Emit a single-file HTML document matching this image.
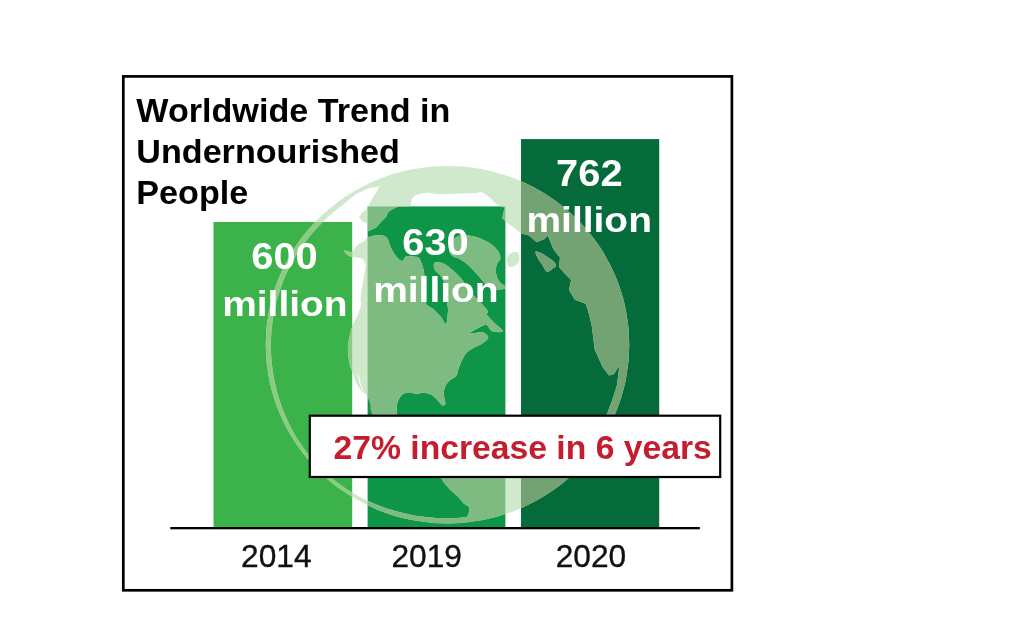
<!DOCTYPE html>
<html lang="en">
<head>
<meta charset="utf-8">
<title>Worldwide Trend in Undernourished People</title>
<style>
html,body{margin:0;padding:0;background:#fff;}
body{width:1024px;height:630px;overflow:hidden;position:relative;font-family:"Liberation Sans",sans-serif;}
svg{position:absolute;left:0;top:0;display:block;}
text{font-family:"Liberation Sans",sans-serif;}
.t{font-weight:bold;font-size:33.6px;fill:#000;}
.v{font-weight:bold;font-size:36px;fill:#fff;text-anchor:middle;}
.y{font-size:31.7px;fill:#111;stroke:#111;stroke-width:0.35px;text-anchor:middle;}
.c{font-weight:bold;font-size:33.7px;fill:#c41e2e;}
</style>
</head>
<body>
<svg width="1024" height="630" viewBox="0 0 1024 630">
  <rect x="0" y="0" width="1024" height="630" fill="#fff"/>
  <!-- frame -->
  <rect x="123.3" y="76.4" width="608.6" height="513.9" fill="#fff" stroke="#000" stroke-width="2.7"/>
  <!-- bars -->
  <rect x="213.5" y="222" width="138.7" height="306" fill="#3bb34a"/>
  <rect x="367.6" y="206.4" width="137.8" height="321.6" fill="#0e9547"/>
  <rect x="521" y="139.1" width="138.2" height="389" fill="#066b3a"/>
  <!-- globe -->
  <defs>
    <clipPath id="cb1"><rect x="213.5" y="222" width="138.7" height="306"/></clipPath>
    <clipPath id="cb2"><rect x="367.6" y="206.4" width="137.8" height="321.6"/></clipPath>
    <clipPath id="cb3"><rect x="521" y="139.1" width="138.2" height="389"/></clipPath>
    <g id="gl"><path fill-rule="evenodd" d="M265.7 344.7A181.8 178.7 0 1 1 629.3 344.7A181.8 178.7 0 1 1 265.7 344.7ZM467.5 517.1L457.1 518.0L446.7 518.3L436.3 518.0L426.0 517.1L415.6 515.7L405.4 513.6L395.3 511.1L385.4 507.9L375.6 504.2L366.1 500.0L356.8 495.2L347.8 489.9L339.2 484.0L331.0 477.6L323.2 470.7L315.8 463.3L309.0 455.4L302.8 447.1L297.0 438.4L291.9 429.5L287.3 420.2L283.2 410.7L279.8 401.0L276.8 391.2L274.5 381.2L272.7 371.1L271.5 361.0L270.9 350.8L270.9 340.5L271.5 330.3L272.7 320.2L274.4 310.1L276.8 300.2L279.8 290.4L283.3 280.8L287.4 271.4L292.1 262.2L297.3 253.4L303.1 244.9L309.3 236.7L316.0 228.9L323.2 221.5L330.8 214.5L338.8 208.0L356.0 194.0L368.0 188.5L379.7 186.2L377.0 191.0L372.5 198.0L368.5 206.0L366.0 210.0L361.5 213.0L359.3 217.5L362.0 221.0L367.6 223.6L367.6 231.5L375.9 227.8L381.0 222.0L386.2 216.8L388.4 211.7L393.5 208.8L398.6 206.4L411.0 206.2L411.4 199.7L414.6 195.7L421.0 193.5L428.9 192.5L435.2 194.1L444.0 194.2L460.0 193.6L476.0 193.3L480.8 191.7L485.0 194.0L490.3 198.0L495.0 203.0L499.8 206.0L504.6 207.6L502.2 218.0L506.2 222.0L512.5 226.7L521.1 233.3L528.9 235.6L536.7 242.2L544.4 238.9L547.8 235.6L553.3 248.9L560.0 257.8L558.9 266.7L564.4 273.3L571.1 280.0L569.0 290.0L574.9 299.8L585.8 303.8L589.0 314.0L591.7 325.6L594.7 349.4L602.7 367.3L609.0 375.5L614.0 374.0L619.5 365.3L617.0 385.0L612.6 399.0L607.0 414.0L600.0 430.0L560.0 440.0L480.0 440.0L446.0 458.0L441.0 478.0L445.0 484.0L450.3 490.0L458.1 496.8L464.0 503.7L469.4 507.1L468.9 512.5L467.4 515.9Z"/><path d="M367.6 237.4C369.7 236.3 373.9 235.4 376.6 235.2C379.3 234.9 382.2 235.3 384.0 235.9C385.8 236.5 386.5 237.0 387.6 238.8C388.7 240.6 389.2 244.1 390.6 246.9C392.0 249.7 393.8 253.3 395.7 255.7C397.6 258.1 400.3 260.9 402.0 261.0C403.7 261.1 404.2 257.1 406.0 256.4C407.8 255.6 410.8 256.2 413.0 256.5C415.2 256.8 417.5 256.6 419.0 257.9C420.5 259.2 421.2 262.0 422.0 264.4C422.8 266.8 423.5 268.6 424.0 272.0C424.5 275.4 424.7 280.7 425.0 285.0C425.3 289.3 425.8 294.8 426.0 298.0C426.2 301.2 425.3 302.7 426.4 304.5C427.5 306.3 430.2 306.6 432.6 308.6C435.0 310.7 438.6 314.2 440.8 316.8C443.0 319.4 444.8 325.0 446.0 324.0C447.2 323.0 447.8 314.2 448.0 310.6C448.2 307.0 447.0 305.0 447.0 302.4C447.0 299.8 447.2 295.7 448.0 295.0C448.8 294.3 450.3 296.8 452.0 298.0C453.7 299.2 455.7 301.0 458.0 302.0C460.3 303.0 463.3 303.3 466.0 304.0C468.7 304.7 471.3 304.9 474.0 306.0C476.7 307.1 478.7 307.8 482.1 310.6C485.5 313.4 491.1 319.6 494.5 323.0C497.9 326.4 503.2 329.9 502.8 331.3C502.4 332.7 495.1 332.3 492.4 331.3C489.6 330.3 488.7 325.6 486.3 325.1C483.9 324.6 480.8 326.8 478.0 328.2C475.2 329.6 469.0 332.7 469.7 333.4C470.4 334.1 479.0 331.6 482.1 332.3C485.2 333.0 488.3 335.6 488.3 337.5C488.3 339.4 484.5 342.0 482.1 343.7C479.7 345.4 476.6 346.1 473.9 347.8C471.1 349.5 468.0 350.9 465.6 354.0C463.2 357.1 460.6 363.7 459.4 366.4C458.1 369.1 458.6 368.4 458.1 370.0C457.6 371.6 457.8 373.9 456.2 375.9C454.6 377.8 450.3 379.6 448.4 381.7C446.4 383.8 445.2 386.3 444.5 388.6C443.8 390.9 443.9 392.9 444.0 395.4C444.1 397.9 445.5 401.8 445.4 403.5C445.3 405.2 444.1 405.3 443.5 405.5C442.9 405.7 442.6 405.7 441.5 404.7C440.4 403.7 438.2 400.9 436.6 399.3C435.0 397.7 433.9 396.0 431.8 394.9C429.7 393.8 426.3 392.9 423.9 392.7C421.4 392.5 419.5 393.9 417.1 393.9C414.7 393.9 411.7 392.4 409.3 392.5C406.9 392.6 404.4 392.8 402.5 394.4C400.6 396.0 398.5 398.9 397.6 402.2C396.7 405.5 396.4 410.6 397.1 414.4C397.8 418.2 399.9 421.4 402.0 425.0C404.1 428.6 406.3 432.5 410.0 436.0C413.7 439.5 419.0 443.3 424.0 446.0C429.0 448.7 439.0 450.0 440.0 452.0C441.0 454.0 435.0 458.0 430.0 458.0C425.0 458.0 416.3 455.0 410.0 452.0C403.7 449.0 397.0 444.0 392.0 440.0C387.0 436.0 383.4 432.8 380.0 428.0C376.6 423.2 373.1 415.4 371.5 411.5C369.9 407.6 371.2 406.8 370.6 404.5C370.0 402.2 368.8 399.2 368.0 397.5C367.2 395.8 366.9 395.1 365.7 394.0C364.5 392.9 362.6 392.6 361.0 390.6C359.4 388.6 357.2 385.0 355.8 381.8C354.4 378.6 353.3 374.3 352.3 371.4C351.3 368.5 350.4 367.9 349.7 364.4C349.0 360.9 348.0 354.5 347.9 350.4C347.8 346.3 348.1 344.0 348.8 339.9C349.5 335.8 350.9 330.1 352.3 326.0C353.8 321.9 356.1 319.0 357.5 315.5C358.9 312.0 360.5 307.6 361.0 305.0C361.5 302.4 360.5 301.8 360.5 300.0C360.5 298.2 360.6 297.0 361.0 294.3C361.4 291.6 362.2 287.3 362.8 283.8C363.4 280.3 364.0 276.2 364.5 273.3C365.0 270.4 365.8 268.6 365.7 266.4C365.6 264.2 365.1 261.7 363.7 260.2C362.3 258.7 359.7 258.2 357.5 257.6C355.3 257.0 352.5 257.3 350.6 256.7C348.7 256.1 347.2 255.1 346.2 254.1C345.2 253.1 344.1 251.1 344.4 250.6C344.7 250.1 346.7 251.1 348.0 251.3C349.3 251.5 351.2 252.6 352.3 252.0C353.4 251.4 353.7 249.4 354.9 248.0C356.1 246.6 357.8 244.8 359.3 243.7C360.8 242.6 362.6 242.6 364.0 241.5C365.4 240.4 365.5 238.5 367.6 237.4Z"/><path d="M433.8 264.4C434.1 263.1 435.0 262.4 436.7 262.3C438.4 262.2 441.3 262.4 444.0 263.7C446.7 265.0 449.9 267.7 452.8 270.3C455.7 272.9 459.2 276.2 461.6 279.1C464.1 282.0 465.8 285.4 467.5 287.9C469.2 290.4 469.9 291.6 472.0 294.0C474.1 296.4 477.3 299.0 480.0 302.0C482.7 305.0 488.0 310.0 488.0 312.0C488.0 314.0 483.7 314.3 480.0 314.0C476.3 313.7 470.0 311.3 466.0 310.0C462.0 308.7 458.8 307.7 456.0 306.0C453.2 304.3 450.5 302.3 449.0 300.0C447.5 297.7 447.8 295.0 447.0 292.0C446.2 289.0 445.2 284.9 444.0 282.0C442.8 279.1 441.1 276.6 439.6 274.7C438.1 272.8 436.2 272.0 435.2 270.3C434.2 268.6 433.6 265.7 433.8 264.4Z"/><path d="M449.0 249.0C449.2 246.4 451.2 242.2 453.0 240.0C454.8 237.8 457.6 236.3 460.0 235.5C462.4 234.7 464.3 234.8 467.5 235.2C470.7 235.6 475.3 236.6 479.2 238.1C483.1 239.6 487.7 241.7 490.9 243.9C494.1 246.1 496.6 248.9 498.2 251.3C499.8 253.8 500.6 256.4 500.4 258.6C500.2 260.8 497.5 262.0 496.8 264.4C496.1 266.8 495.5 270.3 496.0 273.2C496.5 276.1 498.1 279.8 499.7 282.0C501.3 284.2 504.5 285.3 505.5 286.4C506.5 287.5 506.7 288.0 505.5 288.5C504.3 289.0 500.9 289.5 498.2 289.4C495.5 289.3 491.8 289.1 489.4 287.9C487.0 286.7 485.8 284.4 483.6 282.0C481.4 279.6 478.9 276.1 476.2 273.2C473.5 270.3 470.4 266.8 467.5 264.4C464.6 262.0 461.3 260.1 458.7 258.6C456.1 257.2 453.6 257.3 452.0 255.7C450.4 254.1 448.8 251.6 449.0 249.0Z"/><path d="M507.0 258.0C507.6 256.2 509.3 253.9 511.0 253.0C512.7 252.1 515.6 251.8 517.0 252.5C518.4 253.2 519.5 255.1 519.5 257.0C519.5 258.9 518.4 262.3 517.0 264.0C515.6 265.7 512.6 267.0 511.0 267.0C509.4 267.0 508.2 265.5 507.5 264.0C506.8 262.5 506.4 259.8 507.0 258.0Z"/><path d="M535.7 251.6C536.4 250.8 539.5 252.3 542.3 253.8C545.1 255.3 550.3 258.6 552.6 260.6C554.9 262.6 556.1 264.2 556.0 265.6C555.9 267.0 553.5 268.2 552.0 269.2C550.5 270.2 548.4 272.3 546.8 271.6C545.2 270.9 543.8 267.1 542.3 264.9C540.8 262.7 539.0 260.5 537.9 258.3C536.8 256.1 535.0 252.3 535.7 251.6Z"/></g>
  </defs>
  <use href="#gl" fill="#d0e8cc"/>
  <use href="#gl" fill="#8ccb84" clip-path="url(#cb1)"/>
  <use href="#gl" fill="#7ebb80" clip-path="url(#cb2)"/>
  <use href="#gl" fill="#73a373" clip-path="url(#cb3)"/>
  <path id="arc" d="M358.4 374.8Q359.3 383.5 362.8 390.6" stroke="#fff" stroke-width="1" fill="none" stroke-linecap="round"/>
  <!-- axis -->
  <rect x="170.3" y="527" width="529.5" height="2.3" fill="#000"/>
  <!-- title -->
  <text class="t" transform="translate(136.3,122.1) scale(1.016,1)">Worldwide Trend in</text>
  <text class="t" transform="translate(136.3,163.3) scale(1.016,1)">Undernourished</text>
  <text class="t" transform="translate(136.3,204) scale(1.016,1)">People</text>
  <!-- values -->
  <text class="v" transform="translate(284.5,269.2) scale(1.107,1)">600</text>
  <text class="v" transform="translate(284.9,316.3) scale(1.082,1)">million</text>
  <text class="v" transform="translate(435.5,254.9) scale(1.107,1)">630</text>
  <text class="v" transform="translate(435.9,301.8) scale(1.082,1)">million</text>
  <text class="v" transform="translate(589.3,185.6) scale(1.107,1)">762</text>
  <text class="v" transform="translate(589.2,232.2) scale(1.082,1)">million</text>
  <!-- callout -->
  <rect x="309.8" y="415.7" width="410.4" height="61.3" fill="#fff" stroke="#000" stroke-width="2.2"/>
  <text class="c" x="333.5" y="458.7">27% increase in 6 years</text>
  <!-- years -->
  <text class="y" x="276.3" y="567.1">2014</text>
  <text class="y" x="426.7" y="567.1">2019</text>
  <text class="y" x="591" y="567.1">2020</text>
</svg>
</body>
</html>
